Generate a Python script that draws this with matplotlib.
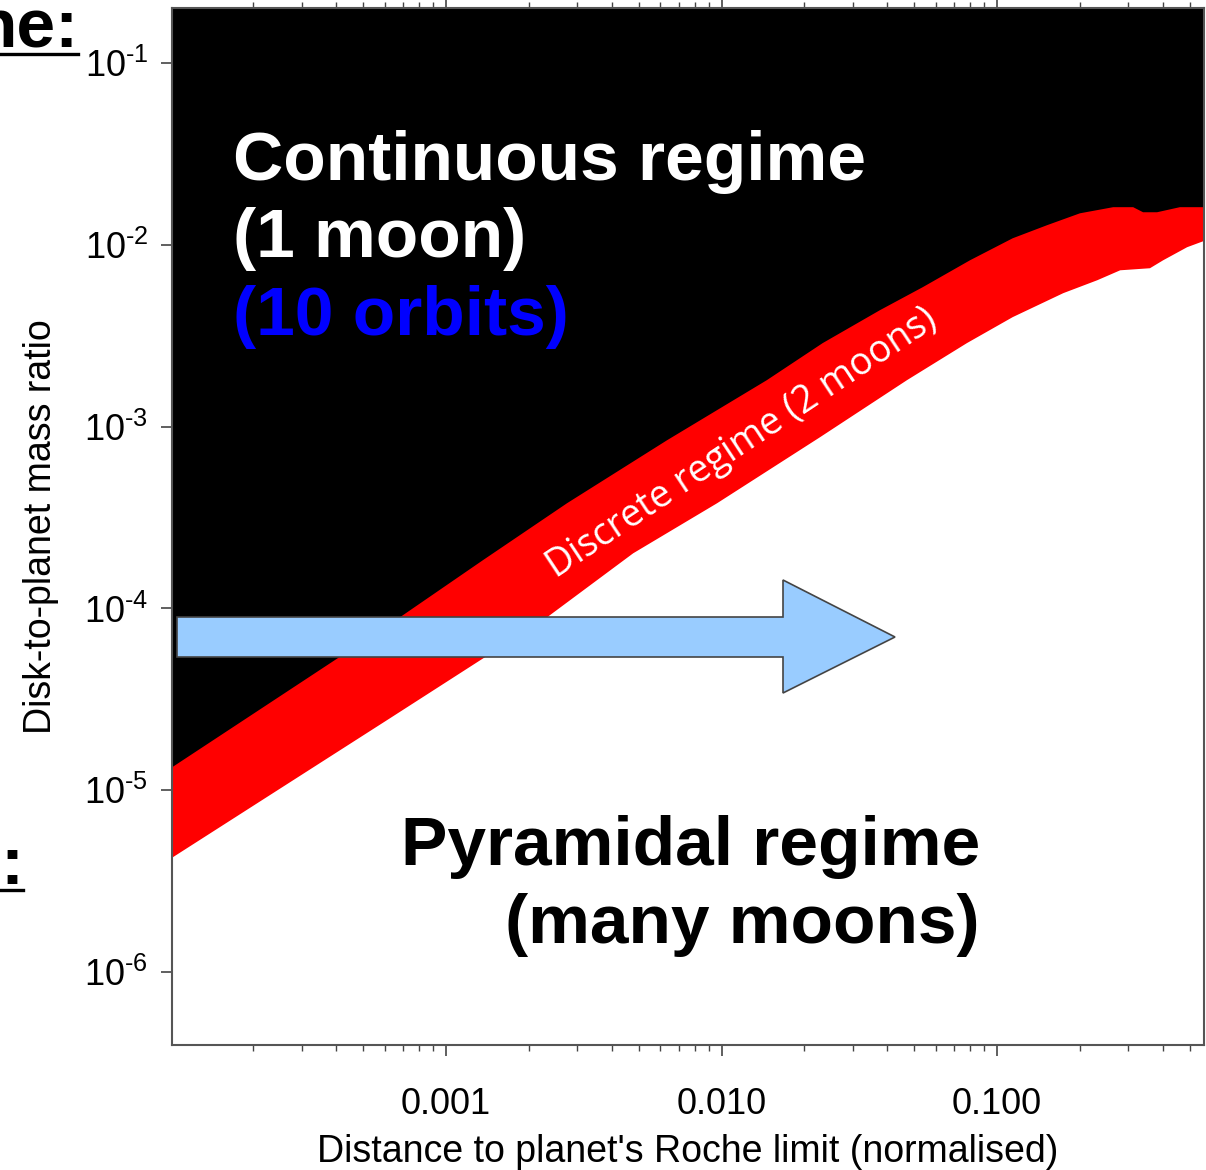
import matplotlib
matplotlib.use("Agg")
import matplotlib.pyplot as plt
from matplotlib.patches import Polygon
from matplotlib.lines import Line2D
from matplotlib.ticker import FixedLocator, FixedFormatter, LogLocator, NullLocator, NullFormatter

plt.rcParams['font.family'] = ['Liberation Sans', 'DejaVu Sans']
plt.rcParams['mathtext.fontset'] = 'custom'
plt.rcParams['mathtext.rm'] = 'Liberation Sans'
plt.rcParams['mathtext.it'] = 'Liberation Sans:italic'
plt.rcParams['mathtext.bf'] = 'Liberation Sans:bold'

# ---- data ----
# upper edge of the discrete (red) band: above it is the continuous regime (black)
x_upper = [1.0e-4, 6.81e-4, 1.36e-3, 2.75e-3, 6.34e-3, 0.0146, 0.0233, 0.0376,
           0.0538, 0.0798, 0.114, 0.152, 0.200, 0.264, 0.312, 0.339, 0.381, 0.461, 0.574]
y_upper = [1.32e-5, 8.95e-5, 1.84e-4, 3.79e-4, 8.41e-4, 1.80e-3, 2.88e-3, 4.37e-3,
           5.85e-3, 8.22e-3, 0.01086, 0.01282, 0.0149, 0.0161, 0.0161, 0.0151, 0.0151, 0.0161, 0.0161]
# lower edge of the red band: below it is the pyramidal regime (white)
x_lower = [1.0e-4, 6.11e-4, 2.33e-3, 4.78e-3, 9.64e-3, 0.0228, 0.0471, 0.0778,
           0.114, 0.174, 0.231, 0.280, 0.359, 0.401, 0.490, 0.574]
y_lower = [4.2e-6, 2.43e-5, 8.95e-5, 2.01e-4, 3.79e-4, 8.75e-4, 1.80e-3, 2.88e-3,
           4.00e-3, 5.42e-3, 6.38e-3, 7.24e-3, 7.43e-3, 8.22e-3, 9.70e-3, 0.0106]

x_ticks = [0.001, 0.01, 0.1]
x_tick_labels = ["0.001", "0.010", "0.100"]
y_ticks = [1e-6, 1e-5, 1e-4, 1e-3, 1e-2, 1e-1]
y_tick_labels = ["$\\mathdefault{10^{\u2010" + str(k) + "}}$" for k in (6, 5, 4, 3, 2, 1)]

W, H = 1206, 1170
fig = plt.figure(figsize=(W / 100, H / 100), dpi=100)
ax = fig.add_axes([172 / W, 1 - 1045 / H, (1204 - 172) / W, (1045 - 8) / H])
ax.set_facecolor('black')
ax.set_xscale('log')
ax.set_yscale('log')
ax.set_xlim(1.0125e-4, 0.564)
ax.set_ylim(3.97e-7, 0.2006)

ax.fill_between(x_upper, 1e-9, y_upper, color='#ff0000', lw=0, zorder=1)
ax.fill_between(x_lower, 1e-9, y_lower, color='white', lw=0, zorder=2)

ax.xaxis.set_major_locator(FixedLocator(x_ticks))
ax.xaxis.set_major_formatter(FixedFormatter(x_tick_labels))
ax.xaxis.set_minor_locator(LogLocator(base=10, subs=range(2, 10)))
ax.xaxis.set_minor_formatter(NullFormatter())
ax.yaxis.set_major_locator(FixedLocator(y_ticks))
ax.yaxis.set_major_formatter(FixedFormatter(y_tick_labels))
ax.yaxis.set_minor_locator(NullLocator())

tc = '#444444'
ax.tick_params(axis='x', which='major', direction='out', length=8, width=1.2,
               top=True, bottom=True, labelsize=26, pad=22, color=tc)
ax.tick_params(axis='x', which='minor', direction='out', length=4, width=1.0,
               top=True, bottom=True, color=tc)
ax.tick_params(axis='y', which='major', direction='out', length=8, width=1.2,
               left=True, right=False, labelsize=26, pad=9, color=tc)
for s in ax.spines.values():
    s.set_color('#555555')
    s.set_linewidth(1.5)

ax.set_xlabel("Distance to planet's Roche limit (normalised)", fontsize=27, labelpad=9)
ax.set_ylabel("Disk-to-planet mass ratio", fontsize=27, labelpad=18)

def fx(px):
    return px / W

def fy(py):
    return 1 - py / H

# region annotations
fig.text(fx(233), fy(180), "Continuous regime", fontsize=50, weight='bold', color='white',
         ha='left', va='baseline')
fig.text(fx(233), fy(257), "(1 moon)", fontsize=50, weight='bold', color='white',
         ha='left', va='baseline')
fig.text(fx(233), fy(335), "(10 orbits)", fontsize=50, weight='bold', color='#0000ff',
         ha='left', va='baseline')
fig.text(fx(980), fy(865), "Pyramidal regime", fontsize=50, weight='bold', color='black',
         ha='right', va='baseline')
fig.text(fx(980), fy(943), "(many moons)", fontsize=50, weight='bold', color='black',
         ha='right', va='baseline')
fig.text(fx(742), fy(443), "Discrete regime (2 moons)", fontsize=27, color='white',
         family=['Open Sans', 'DejaVu Sans'], rotation=33.5, rotation_mode='anchor',
         ha='center', va='center')

# blue arrow
arrow_px = [(177, 617), (783, 617), (783, 580), (895, 637), (783, 693), (783, 657), (177, 657)]
fig.add_artist(Polygon([(fx(a), fy(b)) for a, b in arrow_px], closed=True,
                       transform=fig.transFigure, facecolor='#99ccff',
                       edgecolor='#444444', lw=1.2, zorder=5))

# cropped slide text fragments at the left edge
fig.text(fx(78), fy(47), "ne:", fontsize=50, weight='bold', color='black',
         ha='right', va='baseline')
fig.add_artist(Line2D([0, fx(78)], [fy(53.5), fy(53.5)], transform=fig.transFigure,
                      color='black', lw=2.4))
fig.text(fx(23), fy(884), ":", fontsize=50, weight='bold', color='black',
         ha='right', va='baseline')
fig.add_artist(Line2D([0, fx(23)], [fy(889.5), fy(889.5)], transform=fig.transFigure,
                      color='black', lw=2.4))

fig.savefig("out.png", dpi=100)
